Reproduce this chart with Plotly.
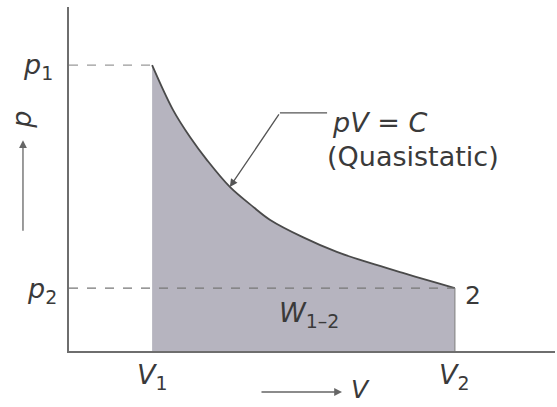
import plotly.graph_objects as go

# Values (arbitrary units; axes start at 0)
V1, V2 = 1.71, 7.94
p1, p2 = 8.31, 1.83
curve_V = [1.71, 2.14, 2.49, 2.84, 3.31, 3.79, 4.14, 4.81, 5.51, 6.19, 6.87, 7.57, 7.94]
curve_p = [8.31, 7.01, 6.22, 5.55, 4.77, 4.19, 3.81, 3.31, 2.88, 2.56, 2.27, 1.98, 1.83]
tick_x_labels = ["<i>V</i><sub>1</sub>", "<i>V</i><sub>2</sub>"]
tick_y_labels = ["<i>p</i><sub>1</sub>", "<i>p</i><sub>2</sub>"]

FONT = "DejaVu Sans"
TXT = "#3a3a3a"
LINE = "#6e6e6e"
FILL = "#b6b4bf"

fig = go.Figure()

# process curve pV = C, with the work area shaded beneath it
fig.add_trace(go.Scatter(
    x=curve_V, y=curve_p, mode="lines", fill="tozeroy", fillcolor=FILL,
    line=dict(color="#4a4a4a", width=1.8, shape="spline", smoothing=1.0),
    hoverinfo="skip", showlegend=False))

# right edge at V2
fig.add_trace(go.Scatter(x=[V2, V2], y=[0, p2], mode="lines",
                         line=dict(color="#8a8a8a", width=1.2), showlegend=False))

# dashed guide lines
fig.add_shape(type="line", x0=0, x1=V1, y0=p1, y1=p1,
              line=dict(color="#9a9a9a", width=1.2, dash="dash"))
fig.add_shape(type="line", x0=0, x1=V2, y0=p2, y1=p2,
              line=dict(color="#777777", width=1.2, dash="dash"))

ann = []
fs = 27
# tick labels
ann.append(dict(x=0, y=p1, text=tick_y_labels[0], xanchor="right", xshift=-14, yshift=-1))
ann.append(dict(x=0, y=p2, text=tick_y_labels[1], xanchor="right", xshift=-10, yshift=-2))
ann.append(dict(x=V1, y=0, text=tick_x_labels[0], yanchor="top", yshift=-6))
ann.append(dict(x=V2, y=0, text=tick_x_labels[1], yanchor="top", yshift=-6))
# state 2
ann.append(dict(x=V2, y=p2, text="2", xanchor="left", xshift=8, yshift=-7, font=dict(size=25)))
# work label
ann.append(dict(x=4.94, y=1.05, text="<i>W</i><sub>1–2</sub>"))
# curve label
ann.append(dict(x=5.36, y=6.63, text="<i>pV</i> = <i>C</i>", xanchor="left"))
ann.append(dict(x=5.27, y=5.64, text="(Quasistatic)", xanchor="left"))
# leader arrow to curve
ann.append(dict(x=curve_V[4], y=curve_p[4], ax=4.34, ay=6.92, axref="x", ayref="y",
                text="", showarrow=True, arrowhead=2, arrowsize=1.2, arrowwidth=1.3,
                arrowcolor="#555"))
# axis titles with arrows (outside the plot, in paper coordinates)
ann.append(dict(xref="paper", yref="paper", x=-0.0947, y=0.613, ax=0, ay=92,
                text="", showarrow=True, arrowhead=2, arrowsize=1.2, arrowwidth=1.3,
                arrowcolor="#666"))
ann.append(dict(xref="paper", yref="paper", x=-0.0967, y=0.672, text="<i>p</i>",
                textangle=-90, xanchor="center", yanchor="middle"))
ann.append(dict(xref="paper", yref="paper", x=0.5617, y=-0.1192, ax=-82, ay=0,
                text="", showarrow=True, arrowhead=2, arrowsize=1.2, arrowwidth=1.3,
                arrowcolor="#666"))
ann.append(dict(xref="paper", yref="paper", x=0.5988, y=-0.113, text="<i>V</i>",
                xanchor="center", yanchor="middle", borderpad=0, font=dict(size=25)))

for a in ann:
    a.setdefault("showarrow", False)
    a.setdefault("font", dict(size=fs))
    a["font"] = dict(family=FONT, color=TXT, **a["font"])
    fig.add_annotation(**a)

# leader horizontal segment
fig.add_shape(type="line", x0=4.34, x1=5.31, y0=6.92, y1=6.92,
              line=dict(color="#555", width=1.3))

fig.update_xaxes(range=[0, 10], showline=True, linecolor=LINE, linewidth=1.5,
                 showgrid=False, zeroline=False, showticklabels=False, ticks="")
fig.update_yaxes(range=[0, 10], showline=True, linecolor=LINE, linewidth=1.5,
                 showgrid=False, zeroline=False, showticklabels=False, ticks="")

fig.update_layout(width=557, height=407, margin=dict(l=69, r=2, t=7, b=56),
                  paper_bgcolor="white", plot_bgcolor="white",
                  font=dict(family=FONT, color=TXT))

fig.write_html("out.html", config={"displayModeBar": False},
               post_script="document.body.style.margin='0px';")
